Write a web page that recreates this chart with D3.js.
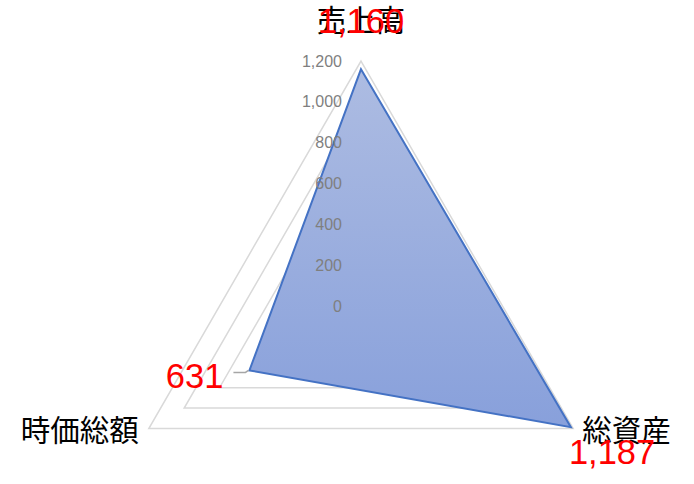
<!DOCTYPE html>
<html>
<head>
<meta charset="utf-8">
<script src="https://cdn.jsdelivr.net/npm/d3@7"></script>
<style>
  html, body { margin: 0; padding: 0; background: #fff; }
  svg { display: block; }
</style>
</head>
<body>
<div id="chart"></div>
<script>
(function () {
  'use strict';

  // data
  var categories = ["売上高", "総資産", "時価総額"];
  var values = [1160, 1187, 631];
  var tickValues = [0, 200, 400, 600, 800, 1000, 1200];
  var maxValue = 1200;

  var width = 694,
      height = 484,
      cx = 361,
      cy = 306,
      radius = 245;

  var svg = d3.select("#chart").append("svg")
    .attr("width", width)
    .attr("height", height);

  var r = d3.scaleLinear().domain([0, maxValue]).range([0, radius]);

  // angle for each axis, starting at the top, going clockwise
  var angle = d3.scaleBand().domain(categories).range([0, 2 * Math.PI]).align(0).paddingInner(0).paddingOuter(0);
  function ang(cat) { return angle(cat) - Math.PI / 2; }
  function pt(cat, v) {
    var a = ang(cat);
    return [cx + r(v) * Math.cos(a), cy + r(v) * Math.sin(a)];
  }

  var defs = svg.append("defs");
  var grad = defs.append("linearGradient")
    .attr("id", "fillGrad")
    .attr("x1", 0).attr("y1", 0).attr("x2", 0).attr("y2", 1);
  grad.append("stop").attr("offset", "0%").attr("stop-color", "#adbce2");
  grad.append("stop").attr("offset", "100%").attr("stop-color", "#88a0db");

  // grid triangles
  var line = d3.line();
  svg.append("g").selectAll("path")
    .data(tickValues.filter(function (t) { return t > 0; }))
    .join("path")
    .attr("d", function (t) {
      return line(categories.map(function (c) { return pt(c, t); })) + "Z";
    })
    .attr("fill", "none")
    .attr("stroke", "#d9d9d9")
    .attr("stroke-width", 1.5);

  // data area
  svg.append("path")
    .attr("d", line(categories.map(function (c, i) { return pt(c, values[i]); })) + "Z")
    .attr("fill", "url(#fillGrad)")
    .attr("stroke", "#4472c4")
    .attr("stroke-width", 2)
    .attr("stroke-linejoin", "miter");

  // tick labels
  var fmt = d3.format(",");
  svg.append("g").selectAll("text")
    .data(tickValues)
    .join("text")
    .attr("x", cx - 19)
    .attr("y", function (t) { return cy - r(t); })
    .attr("dy", "0.35em")
    .attr("text-anchor", "end")
    .attr("fill", "#7f7f7f")
    .style("font-family", "'Liberation Sans', Arial, sans-serif")
    .style("font-size", "16px")
    .text(function (t) { return fmt(t); });

  // category labels
  var catPlace = [
    { dx: 0, dy: -41, anchor: "middle" },
    { dx: 9, dy: 2, anchor: "start" },
    { dx: -10, dy: 2, anchor: "end" }
  ];
  svg.append("g").selectAll("text")
    .data(categories)
    .join("text")
    .attr("x", function (c, i) { return pt(c, maxValue)[0] + catPlace[i].dx; })
    .attr("y", function (c, i) { return pt(c, maxValue)[1] + catPlace[i].dy; })
    .attr("dy", "0.36em")
    .attr("text-anchor", function (c, i) { return catPlace[i].anchor; })
    .attr("fill", "#000")
    .style("font-family", "'Noto Sans CJK JP', sans-serif")
    .style("font-size", "29.5px")
    .text(function (c) { return c; });

  // leader line for the left label
  var p631 = pt(categories[2], values[2]);
  svg.append("path")
    .attr("d", "M" + (p631[0] - 16) + "," + (p631[1] + 2) +
               "H" + (p631[0] - 4) +
               "L" + (p631[0] - 1) + "," + (p631[1]))
    .attr("fill", "none")
    .attr("stroke", "#a6a6a6")
    .attr("stroke-width", 1.5);

  // data labels
  var labPlace = [
    { dx: 0, dy: -49, anchor: "middle" },
    { dx: -2, dy: 24, anchor: "start" },
    { dx: -26, dy: 5, anchor: "end" }
  ];
  svg.append("g").selectAll("text")
    .data(values)
    .join("text")
    .attr("x", function (v, i) { return pt(categories[i], v)[0] + labPlace[i].dx; })
    .attr("y", function (v, i) { return pt(categories[i], v)[1] + labPlace[i].dy; })
    .attr("dy", "0.36em")
    .attr("text-anchor", function (v, i) { return labPlace[i].anchor; })
    .attr("fill", "#ff0000")
    .style("font-family", "'Liberation Sans', Arial, sans-serif")
    .style("font-size", "34.5px")
    .text(function (v) { return fmt(v); });
}());
</script>
</body>
</html>
